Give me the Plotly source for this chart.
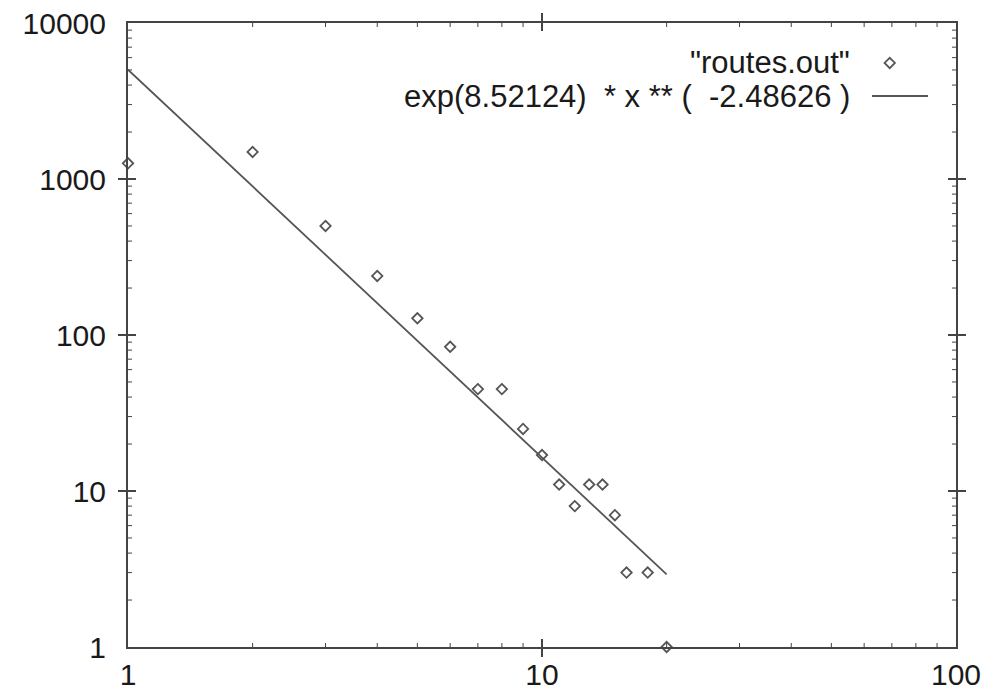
import numpy as np
import plotly.graph_objects as go

# Route counts per path length (log-log)
lengths = [1, 2, 3, 4, 5, 6, 7, 8, 9, 10, 11, 12, 13, 14, 15, 16, 18, 20]
counts = [1260, 1490, 500, 239, 128, 84, 45, 45, 25, 17, 11, 8, 11, 11, 7, 3, 3, 1]

# Power-law fit: exp(a) * x ** b
fit_a = 8.52124
fit_b = -2.48626
fit_x = [1, 20]
fit_y = [np.exp(fit_a) * x ** fit_b for x in fit_x]

x_tick_vals = [1, 10, 100]
x_tick_text = ["1", "10", "100"]
y_tick_vals = [1, 10, 100, 1000, 10000]
y_tick_text = ["1", "10", "100", "1000", "10000"]

series_label = '"routes.out"'
fit_label = "exp(8.52124)\u00a0\u00a0* x ** (\u00a0\u00a0-2.48626 )"

FONT = "Liberation Sans, Arial, Helvetica, sans-serif"
INK = "#1a1a1a"
AXIS = "#444444"
MARK = "#555555"

W, H = 998, 693
MARGIN = dict(l=128, r=42, t=23, b=46)
PLOT_W = W - MARGIN["l"] - MARGIN["r"]
PLOT_H = H - MARGIN["t"] - MARGIN["b"]
MINOR_LEN = 4  # px


def log_minor(majors):
    # 2..9 times each decade start
    return [m * k for m in majors[:-1] for k in range(2, 10)]


def tick_segments(vals, frac):
    # inward stubs on both opposite sides, expressed as (value, domain-fraction) pairs
    pos, dom = [], []
    for v in vals:
        pos += [v, v, None, v, v, None]
        dom += [0, frac, None, 1, 1 - frac, None]
    return pos, dom


fig = go.Figure()

fig.add_trace(go.Scatter(
    x=fit_x, y=fit_y, mode="lines",
    line=dict(color=MARK, width=1.8),
    showlegend=False, hoverinfo="skip",
))
fig.add_trace(go.Scatter(
    x=lengths, y=counts, mode="markers",
    marker=dict(symbol="diamond-open", size=8, color=MARK, line=dict(width=1.8, color=MARK)),
    cliponaxis=False, showlegend=False,
))

# Minor ticks: log values on the data axes, tick length on unit overlay axes
mx, my_dom = tick_segments(log_minor(x_tick_vals), MINOR_LEN / PLOT_H)
fig.add_trace(go.Scatter(
    x=mx, y=my_dom, mode="lines", xaxis="x", yaxis="y4",
    line=dict(color=AXIS, width=1), showlegend=False, hoverinfo="skip",
))
my, mx_dom = tick_segments(log_minor(y_tick_vals), MINOR_LEN / PLOT_W)
fig.add_trace(go.Scatter(
    x=mx_dom, y=my, mode="lines", xaxis="x4", yaxis="y",
    line=dict(color=AXIS, width=1), showlegend=False, hoverinfo="skip",
))

# Key samples drawn on an overlay unit axis
fig.add_trace(go.Scatter(
    x=[0.920], y=[0.936], mode="markers", xaxis="x2", yaxis="y2",
    marker=dict(symbol="diamond-open", size=8, color=MARK, line=dict(width=1.8, color=MARK)),
    showlegend=False, hoverinfo="skip",
))
fig.add_trace(go.Scatter(
    x=[0.8986, 0.9662], y=[0.883, 0.883], mode="lines", xaxis="x2", yaxis="y2",
    line=dict(color=MARK, width=1.8),
    showlegend=False, hoverinfo="skip",
))

fig.add_annotation(xref="paper", yref="paper", x=0.874, y=0.936, text=series_label,
                   showarrow=False, xanchor="right", yanchor="middle",
                   font=dict(family=FONT, size=31, color=INK))
fig.add_annotation(xref="paper", yref="paper", x=0.874, y=0.883, text=fit_label,
                   showarrow=False, xanchor="right", yanchor="middle",
                   font=dict(family=FONT, size=31, color=INK))

axis_common = dict(
    type="log", showgrid=False, zeroline=False, automargin=False,
    showline=True, linecolor=AXIS, linewidth=2, mirror="allticks",
    ticks="inside", ticklen=8, tickwidth=1.5, tickcolor=AXIS,
    tickfont=dict(family=FONT, size=30, color=INK),
)
unit_overlay = dict(range=[0, 1], visible=False, fixedrange=True)

fig.update_layout(
    width=W, height=H,
    margin=MARGIN,
    paper_bgcolor="white", plot_bgcolor="white",
    xaxis=dict(range=[np.log10(x_tick_vals[0]), np.log10(x_tick_vals[-1])],
               tickvals=x_tick_vals, ticktext=x_tick_text, ticklabelstandoff=0, **axis_common),
    yaxis=dict(range=[np.log10(y_tick_vals[0]), np.log10(y_tick_vals[-1])],
               tickvals=y_tick_vals, ticktext=y_tick_text, ticklabelstandoff=14, **axis_common),
    xaxis2=dict(overlaying="x", **unit_overlay),
    yaxis2=dict(overlaying="y", **unit_overlay),
    xaxis4=dict(overlaying="x", anchor="y", **unit_overlay),
    yaxis4=dict(overlaying="y", anchor="x", **unit_overlay),
)

fig.write_html("out.html")
